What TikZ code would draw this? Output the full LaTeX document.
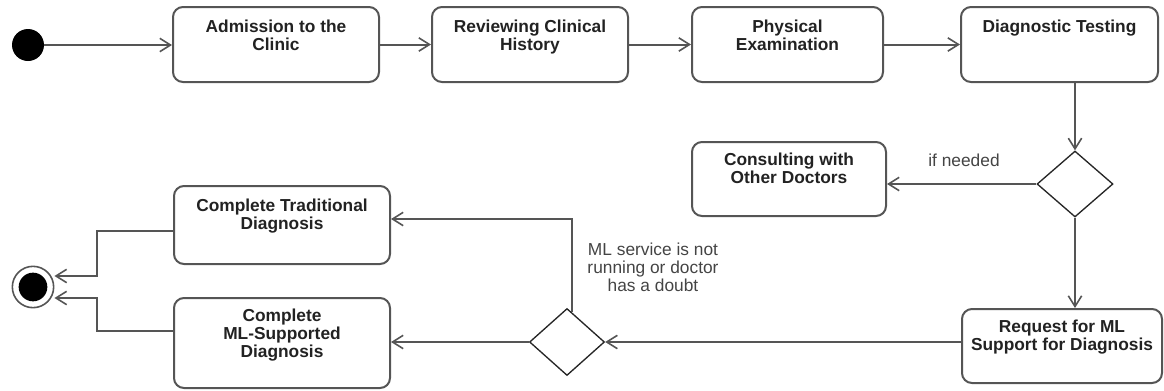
\documentclass[tikz,border=0pt]{standalone}
\usepackage{fontspec}
\setmainfont{Liberation Sans}
\usetikzlibrary{arrows.meta,shapes.geometric,calc}
\definecolor{linegray}{HTML}{555555}
\definecolor{textdark}{HTML}{222222}
\definecolor{labelgray}{HTML}{444444}
\begin{document}
\begin{tikzpicture}[x=0.75pt,y=-0.75pt,
  activity/.style={draw=linegray, line width=1.5pt, rounded corners=7.5pt, fill=white, inner sep=0pt},
  acttext/.style={anchor=north, align=center, inner sep=0pt, text=textdark,
    font=\fontsize{13pt}{13.5pt}\selectfont\bfseries},
  guard/.style={align=center, inner sep=0pt, text=labelgray,
    font=\fontsize{13pt}{13.5pt}\selectfont},
  decision/.style={diamond, draw=black!85, line width=1pt, inner sep=0pt, fill=white},
  flow/.style={draw=linegray, line width=1.5pt,
    -{Straight Barb[length=8pt,width=10pt,line width=1.2pt]}},
]
\useasboundingbox (0,0) rectangle (1164,390);

% initial and final states
\node[circle, fill=black, minimum size=24pt, inner sep=0pt] (start) at (28,45) {};
\node[circle, draw=linegray, line width=1.2pt, fill=white, minimum size=31pt, inner sep=0pt] (fin) at (33,287) {};
\node[circle, fill=black, minimum size=21.5pt, inner sep=0pt] (fincore) at (fin.center) {};

% top row of activities
\node[activity, minimum width=154.5pt, minimum height=56.25pt] (adm) at (276,44.5) {};
\node[acttext] (admT) at ($(adm.north)+(0,14)$) {Admission to the\\Clinic};
\node[activity, minimum width=147pt, minimum height=56.25pt] (rev) at (530,44.5) {};
\node[acttext] (revT) at ($(rev.north)+(0,14)$) {Reviewing Clinical\\History};
\node[activity, minimum width=143.25pt, minimum height=56.25pt] (phy) at (787.5,44.5) {};
\node[acttext] (phyT) at ($(phy.north)+(0,14)$) {Physical\\Examination};
\node[activity, minimum width=147.75pt, minimum height=56.25pt] (diag) at (1059.5,44.5) {};
\node[acttext] (diagT) at ($(diag.north)+(0,14)$) {Diagnostic Testing};

% consultation branch
\node[activity, minimum width=145.5pt, minimum height=55.5pt] (cons) at (789,179) {};
\node[acttext] (consT) at ($(cons.north)+(0,12)$) {Consulting with\\Other Doctors};
\node[decision, minimum width=57pt, minimum height=49.5pt] (d1) at (1075,184) {};

% ML request
\node[activity, minimum width=150pt, minimum height=55.5pt] (req) at (1062,346) {};
\node[acttext] (reqT) at ($(req.north)+(0,12)$) {Request for ML\\Support for Diagnosis};
\node[decision, minimum width=56.25pt, minimum height=50.25pt] (d2) at (567,342) {};

% completion activities
\node[activity, minimum width=162pt, minimum height=58.5pt] (trad) at (282,225) {};
\node[acttext] (tradT) at ($(trad.north)+(0,14)$) {Complete Traditional\\Diagnosis};
\node[activity, minimum width=162pt, minimum height=67.5pt] (ml) at (282,343) {};
\node[acttext] (mlT) at ($(ml.north)+(0,12)$) {Complete\\ML-Supported\\Diagnosis};

% guard labels
\node[guard, anchor=base] (g1) at (964,166) {if needed};
\node[guard, anchor=north] (g2) at (653,242.5) {ML service is not\\running or doctor\\has a doubt};

% control flow
\draw[flow] (start.east) -- (start.east -| adm.west);
\draw[flow] (adm.east) -- (rev.west);
\draw[flow] (rev.east) -- (phy.west);
\draw[flow] (phy.east) -- (diag.west);
\draw[flow] (d1.north |- diag.south) -- (d1.north);
\draw[flow] (d1.west) -- (d1.west -| cons.east);
\draw[flow] (d1.south) -- (d1.south |- req.north);
\draw[flow] (req.west |- d2.east) -- (d2.east);
\draw[flow] (d2.west) -- (d2.west -| ml.east);
\draw[flow] ($(d2.north)+(5,4)$) |- ($(trad.east)+(0,-6)$);
\draw[flow] ($(trad.west)+(0,6)$) -- ++(-76,0) |- ($(fin.east)+(0,-11)$);
\draw[flow] ($(ml.west)+(0,-12)$) -- ++(-76,0) |- ($(fin.east)+(0,11)$);
\end{tikzpicture}
\end{document}
